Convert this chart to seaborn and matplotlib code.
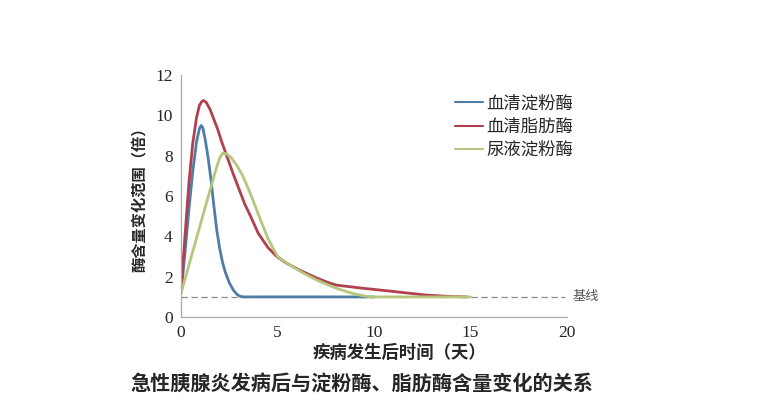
import numpy as np, pandas as pd, matplotlib
matplotlib.use('Agg')
import matplotlib.pyplot as plt
import seaborn as sns

# values (days, fold change)
blue_x = [0, 0.2, 0.4, 0.6, 0.8, 0.95, 1.04, 1.12, 1.25, 1.4, 1.55, 1.7, 1.85, 2.0, 2.15, 2.3, 2.5, 2.7, 2.9, 3.05, 3.23, 4, 6, 8, 10]
blue_y = [1.2, 3.2, 5.3, 7.2, 8.7, 9.35, 9.5, 9.4, 8.8, 7.9, 6.8, 5.5, 4.3, 3.4, 2.7, 2.2, 1.7, 1.35, 1.12, 1.03, 1.0, 1.0, 1.0, 1.0, 1.0]
red_x = [0, 0.2, 0.4, 0.6, 0.8, 0.95, 1.08, 1.16, 1.3, 1.5, 1.7, 1.9, 2.1, 2.4, 2.7, 3.0, 3.3, 3.6, 4.0, 4.5, 4.96, 5.5, 6.2, 7.0, 7.6, 8.07, 9.5, 11, 12.7, 14, 14.8]
red_y = [1.4, 4.0, 6.6, 8.6, 9.9, 10.5, 10.7, 10.74, 10.65, 10.3, 9.8, 9.3, 8.7, 7.9, 7.1, 6.35, 5.6, 5.0, 4.15, 3.45, 3.0, 2.65, 2.3, 1.95, 1.72, 1.58, 1.42, 1.27, 1.09, 1.02, 1.0]
green_x = [0, 0.5, 1.0, 1.5, 1.8, 2.0, 2.16, 2.35, 2.6, 2.9, 3.2, 3.6, 4.0, 4.5, 5.0, 5.6, 6.3, 7.0, 7.6, 8.07, 8.6, 9.2, 9.8, 12, 15]
green_y = [1.2, 2.9, 4.6, 6.3, 7.3, 7.9, 8.13, 8.1, 7.9, 7.5, 7.0, 6.1, 5.1, 3.9, 3.0, 2.6, 2.2, 1.85, 1.6, 1.42, 1.25, 1.1, 1.0, 1.0, 1.0]
names = ['血清淀粉酶', '血清脂肪酶', '尿液淀粉酶']
colors = ['#4f7ca8', '#b0404e', '#b4c77c']
x_ticks = [0, 5, 10, 15, 20]
y_ticks = [0, 2, 4, 6, 8, 10, 12]
baseline = 1.0

df = pd.concat([
    pd.DataFrame({'x': blue_x, 'y': blue_y, 's': names[0]}),
    pd.DataFrame({'x': red_x, 'y': red_y, 's': names[1]}),
    pd.DataFrame({'x': green_x, 'y': green_y, 's': names[2]}),
])

sns.set_style('white')
plt.rcParams['font.family'] = ['Noto Sans CJK SC', 'DejaVu Sans']

fig = plt.figure(figsize=(7.61, 4.15), dpi=100)
ax = fig.add_axes([0.238, 0.236, 0.507, 0.583])

ax.axhline(baseline, xmin=0, xmax=0.995, color='#888888', lw=0.9, ls=(0, (5, 3)), clip_on=False)
sns.lineplot(data=df, x='x', y='y', hue='s', palette=dict(zip(names, colors)),
             sort=False, estimator=None, lw=2, ax=ax)
ax.text(20.3, baseline, '基线', fontsize=9.5, color='#555555', va='center', ha='left')

ax.set_xlim(0, 20)
ax.set_ylim(0, 12)
ax.set_xticks(x_ticks)
ax.set_yticks(y_ticks)
for lab in ax.get_xticklabels() + ax.get_yticklabels():
    lab.set_family('Liberation Serif')
    lab.set_fontsize(12.5)
ax.tick_params(axis='both', direction='out', length=4, color='#999999', width=0.8, pad=2)
sns.despine(ax=ax)
for sp in ['left', 'bottom']:
    ax.spines[sp].set_color('#aaaaaa')
    ax.spines[sp].set_linewidth(0.9)

ax.set_xlabel('疾病发生后时间（天）', fontsize=12.5, fontweight='bold')
ax.xaxis.set_label_coords(0.565, -0.11)
ax.set_ylabel('酶含量变化范围（倍）', fontsize=11, fontweight='bold', labelpad=6)

leg = ax.legend(loc='upper left', bbox_to_anchor=(0.67, 0.985), frameon=False,
                fontsize=12.5, handlelength=1.6, handletextpad=0.2, labelspacing=0.3)
for h in leg.get_lines():
    h.set_linewidth(1.5)

fig.text(0.475, 0.077, '急性胰腺炎发病后与淀粉酶、脂肪酶含量变化的关系',
         ha='center', va='center', fontsize=14.5, fontweight='bold')

fig.savefig('out.png', dpi=100, facecolor='white')
